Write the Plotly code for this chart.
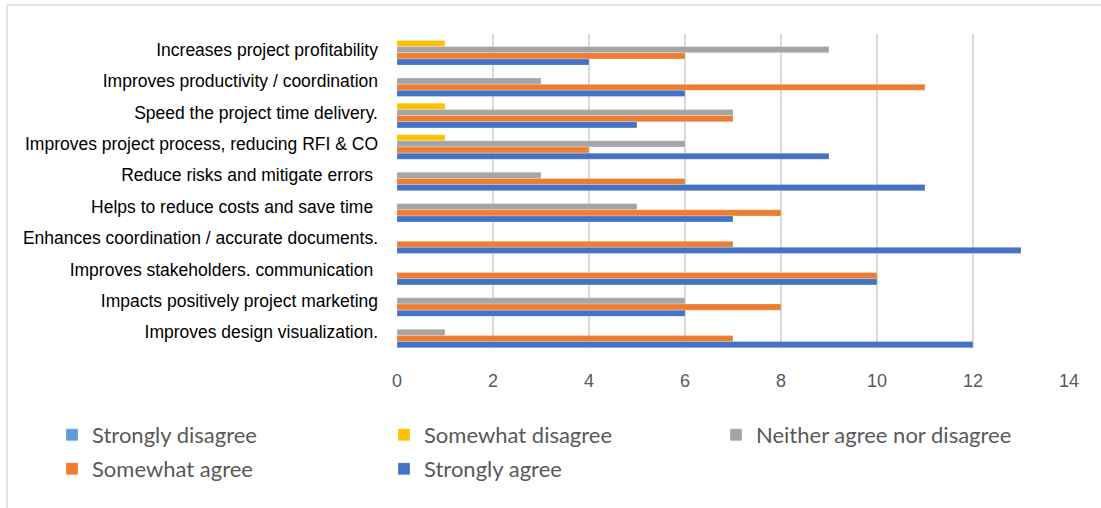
import plotly.graph_objects as go

categories = [
    "Increases project profitability",
    "Improves productivity / coordination",
    "Speed the project time delivery.",
    "Improves project process, reducing RFI & CO",
    "Reduce risks and mitigate errors\u00a0",
    "Helps to reduce costs and save time\u00a0",
    "Enhances coordination / accurate documents.",
    "Improves stakeholders. communication\u00a0",
    "Impacts positively project marketing",
    "Improves design visualization.",
]

strongly_disagree = [0, 0, 0, 0, 0, 0, 0, 0, 0, 0]
somewhat_disagree = [1, 0, 1, 1, 0, 0, 0, 0, 0, 0]
neither = [9, 3, 7, 6, 3, 5, 0, 0, 6, 1]
somewhat_agree = [6, 11, 7, 4, 6, 8, 7, 10, 8, 7]
strongly_agree = [4, 6, 5, 9, 11, 7, 13, 10, 6, 12]

series = [
    ("Strongly disagree", strongly_disagree, "#5B9BD5", "legend"),
    ("Somewhat disagree", somewhat_disagree, "#FFC000", "legend"),
    ("Neither agree nor disagree", neither, "#A5A5A5", "legend"),
    ("Somewhat agree", somewhat_agree, "#ED7D31", "legend2"),
    ("Strongly agree", strongly_agree, "#4472C4", "legend2"),
]

x_ticks = [0, 2, 4, 6, 8, 10, 12, 14]

fig = go.Figure()
for name, vals, color, lg in series:
    fig.add_trace(go.Bar(
        y=categories, x=vals, name=name, orientation="h", legend=lg,
        marker=dict(color=color, line=dict(color="rgba(255,255,255,0.5)", width=0.5)),
    ))

W, H = 1101, 508
L, R, T, B = 397, 32, 34, 160
pw = W - L - R
ph = H - T - B


def px_x(p):
    return (p - L) / pw


def px_y(p):
    return (H - B - p) / ph


legend_font = dict(size=22, color="#595959", family="Lato, Liberation Sans")
common_legend = dict(
    orientation="h", xref="paper", yref="paper",
    xanchor="left", yanchor="top",
    entrywidth=287, entrywidthmode="pixels",
    font=legend_font, traceorder="normal", itemwidth=30,
    bgcolor="rgba(0,0,0,0)",
)

fig.update_layout(
    width=W, height=H,
    margin=dict(l=L, r=R, t=T, b=B, autoexpand=False),
    barmode="group", bargap=0.02, bargroupgap=0,
    plot_bgcolor="white", paper_bgcolor="white",
    font=dict(family="Liberation Sans, Arial", color="#000000"),
    xaxis=dict(
        range=[0, 14], tickvals=x_ticks, showgrid=True,
        gridcolor="#D9D9D9", gridwidth=1.5, zeroline=False,
        tickfont=dict(size=18, color="#595959", family="Liberation Sans, Arial"),
        ticklabelstandoff=20, fixedrange=True,
    ),
    yaxis=dict(
        autorange="reversed", showgrid=False, zeroline=False,
        tickfont=dict(size=17.5, color="#000000", family="Liberation Sans, Arial"),
        ticklabelstandoff=18,
    ),
    legend=dict(common_legend, x=px_x(52), y=px_y(414)),
    legend2=dict(common_legend, x=px_x(52), y=px_y(448)),
    shapes=[
        dict(type="line", xref="paper", yref="paper",
             x0=px_x(7), x1=px_x(1101), y0=px_y(5), y1=px_y(5),
             line=dict(color="#D9D9D9", width=1.5)),
        dict(type="line", xref="paper", yref="paper",
             x0=px_x(7), x1=px_x(7), y0=px_y(5), y1=px_y(508),
             line=dict(color="#D9D9D9", width=1.5)),
    ],
)

fig.write_html(
    "out.html",
    config={"displayModeBar": False},
    post_script="document.body.style.margin='0';document.body.style.overflow='hidden';",
)
